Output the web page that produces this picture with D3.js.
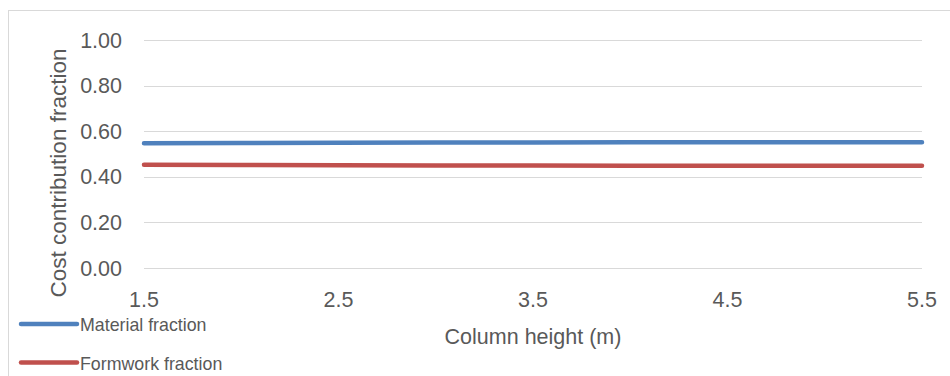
<!DOCTYPE html>
<html>
<head>
<meta charset="utf-8">
<script src="https://cdn.jsdelivr.net/npm/d3@7"></script>
<style>
  body { margin: 0; background: #fff; }
  svg { display: block; font-family: "Liberation Sans", Arial, sans-serif; }
</style>
</head>
<body>
<svg width="950" height="376"></svg>
<script>
// column heights (m) and cost fractions
var heights = [1.5, 2.0, 2.5, 3.0, 3.5, 4.0, 4.5, 5.0, 5.5];
var materialFraction = [0.547, 0.548, 0.549, 0.550, 0.550, 0.551, 0.551, 0.552, 0.552];
var formworkFraction = [0.453, 0.452, 0.451, 0.450, 0.450, 0.449, 0.449, 0.448, 0.448];
var xTicks = [1.5, 2.5, 3.5, 4.5, 5.5];
var yTicks = [0, 0.2, 0.4, 0.6, 0.8, 1.0];

var series = [
    {name: "Material fraction", values: materialFraction, color: "#4F81BD"},
    {name: "Formwork fraction", values: formworkFraction, color: "#C0504D"}
];

var svg = d3.select("svg");

// chart area border
svg.append("rect").attr("x", 8.5).attr("y", 10.5).attr("width", 960).attr("height", 400)
    .style("fill", "none").style("stroke", "#D9D9D9").style("stroke-width", 1);

var x = d3.scaleLinear().domain([1.5, 5.5]).range([144, 922]);
var y = d3.scaleLinear().domain([0, 1]).range([268, 40]);

// gridlines
svg.append("g").selectAll("line").data(yTicks).enter().append("line")
    .attr("x1", x(1.5)).attr("x2", x(5.5))
    .attr("y1", function (d) { return Math.round(y(d)) + 0.5; })
    .attr("y2", function (d) { return Math.round(y(d)) + 0.5; })
    .style("stroke", "#D9D9D9").style("stroke-width", 1);

// y tick labels
svg.append("g").selectAll("text").data(yTicks).enter().append("text")
    .attr("x", 122).attr("y", function (d) { return y(d) + 7.5; })
    .attr("text-anchor", "end").style("font-size", "21.5px").style("fill", "#595959")
    .text(function (d) { return d3.format(".2f")(d); });

// x tick labels
svg.append("g").selectAll("text").data(xTicks).enter().append("text")
    .attr("x", function (d) { return x(d); }).attr("y", 307)
    .attr("text-anchor", "middle").style("font-size", "21.5px").style("fill", "#595959")
    .text(function (d) { return d3.format(".1f")(d); });

// axis titles
svg.append("text").attr("x", 533).attr("y", 344).attr("text-anchor", "middle")
    .style("font-size", "21.5px").style("fill", "#595959").text("Column height (m)");

svg.append("text").attr("transform", "translate(65.5,173) rotate(-90)").attr("text-anchor", "middle")
    .style("font-size", "22.5px").style("fill", "#595959").text("Cost contribution fraction");

// lines
var line = d3.line()
    .x(function (d, i) { return x(heights[i]); })
    .y(function (d) { return y(d); });

svg.append("g").selectAll("path").data(series).enter().append("path")
    .attr("d", function (d) { return line(d.values); })
    .style("fill", "none").style("stroke", function (d) { return d.color; })
    .style("stroke-width", 4.5).style("stroke-linecap", "round");

// legend
var legend = svg.append("g").selectAll("g").data(series).enter().append("g")
    .attr("transform", function (d, i) { return "translate(0," + (324 + i * 38.5) + ")"; });

legend.append("line").attr("x1", 21).attr("x2", 77).attr("y1", 0).attr("y2", 0)
    .style("stroke", function (d) { return d.color; })
    .style("stroke-width", 4.5).style("stroke-linecap", "round");

legend.append("text").attr("x", 80).attr("y", 7)
    .style("font-size", "17.8px").style("fill", "#595959")
    .text(function (d) { return d.name; });
</script>
</body>
</html>
